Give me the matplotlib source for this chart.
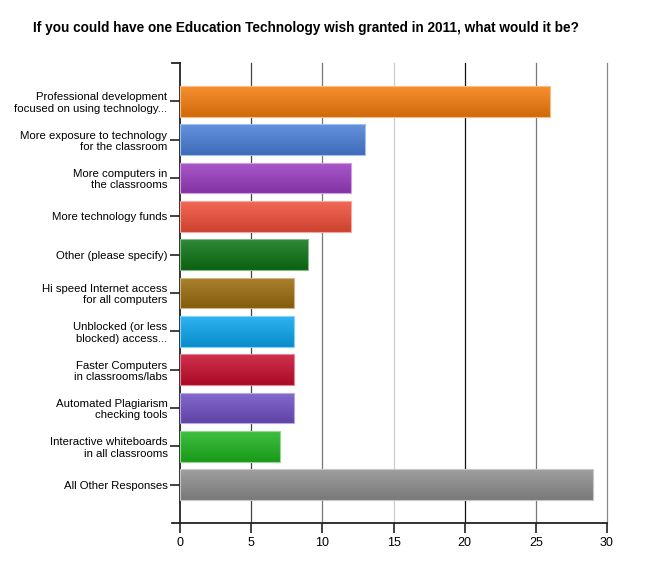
import matplotlib
matplotlib.use("Agg")
import matplotlib.pyplot as plt
import numpy as np
from matplotlib.colors import to_rgb

categories = [
    "Professional development\nfocused on using technology...",
    "More exposure to technology\nfor the classroom",
    "More computers in\nthe classrooms",
    "More technology funds",
    "Other (please specify)",
    "Hi speed Internet access\nfor all computers",
    "Unblocked (or less\nblocked) access...",
    "Faster Computers\nin classrooms/labs",
    "Automated Plagiarism\nchecking tools",
    "Interactive whiteboards\nin all classrooms",
    "All Other Responses",
]
values = [26, 13, 12, 12, 9, 8, 8, 8, 8, 7, 29]
colors = ["#f47c0c", "#4a7fd8", "#9a3cc0", "#f04e38", "#0c7414", "#9c6c0c",
          "#0aa6ee", "#c80c2c", "#7050c4", "#1eb41e", "#8e8e8e"]
xticks = [0, 5, 10, 15, 20, 25, 30]
grid_colors = ["#444444", "#777777", "#cccccc", "#111111", "#777777", "#888888"]

plt.rcParams['font.family'] = ['Liberation Sans', 'DejaVu Sans']

fig = plt.figure(figsize=(6.46, 5.71), dpi=100)
ax = fig.add_axes([180/646, 1-523/571, (607-180)/646, (523-63)/571])

y = np.arange(len(values))
bars = ax.barh(y, values, height=0.8, color=colors, edgecolor="none", zorder=3)

def shade(c, f):
    r = np.array(to_rgb(c))
    if f > 0:
        return r + (1 - r) * f
    return r * (1 + f)

for b, c in zip(bars, colors):
    x0, y0 = b.get_x(), b.get_y()
    w, h = b.get_width(), b.get_height()
    top = shade(c, 0.15)
    bot = shade(c, -0.15)
    n = 64
    t = np.linspace(0, 1, n)[:, None]
    grad = top[None, :] * (1 - t) + bot[None, :] * t
    img = grad[:, None, :]
    im = ax.imshow(img, extent=[x0, x0 + w, y0 + h, y0], aspect="auto",
                   zorder=4, interpolation="bilinear")
    im.set_clip_path(b)
    b.set_facecolor("none")
    b.set_edgecolor(shade(c, 0.5))
    b.set_linewidth(0.8)
    b.set_zorder(5)

ax.set_xlim(0, 30)
ax.set_ylim(11, -1)
ax.set_aspect("auto")

for xv, gc in zip(xticks[1:], grid_colors):
    ax.axvline(xv, color=gc, lw=0.9, zorder=1, clip_on=False)

ax.set_xticks(xticks)
ax.set_xticklabels([str(v) for v in xticks], fontsize=9)
ax.set_yticks(y)
ax.set_yticklabels(categories, fontsize=8.2, linespacing=1.15)
ax.tick_params(axis="y", length=7, width=1.2, color="#222222", pad=2)
ax.tick_params(axis="x", length=7, width=1.2, color="#222222", pad=3)

for s in ["top", "right"]:
    ax.spines[s].set_visible(False)
for s in ["left", "bottom"]:
    ax.spines[s].set_linewidth(1.3)
    ax.spines[s].set_color("#222222")

# caps on axis ends
ax.plot([-0.55, 0], [-1, -1], color="#222222", lw=1.3, clip_on=False, zorder=6)
ax.plot([-0.55, 0], [11, 11], color="#222222", lw=1.3, clip_on=False, zorder=6)

fig.text(33/646, 1-28/571, "If you could have one Education Technology wish granted in 2011, what would it be?",
         fontsize=9.8, fontweight="bold", va="center", ha="left")

fig.savefig("out.png", dpi=100)
